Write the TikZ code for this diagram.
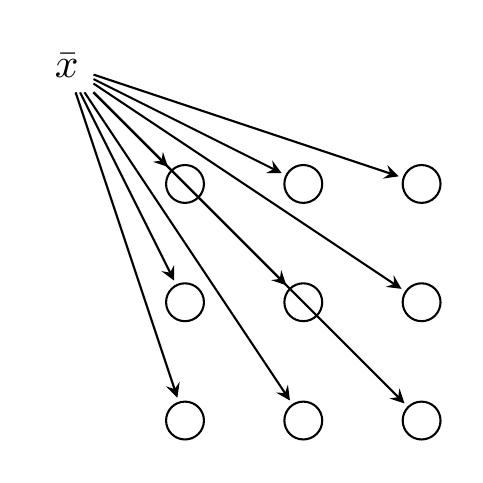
\documentclass[tikz,border=0pt]{standalone}
\usepackage{amsmath}
\usepackage{amssymb}
\usetikzlibrary{arrows, positioning}

\begin{document}
\begin{tikzpicture}[line width=0.5pt, unit/.style={circle, draw=black, minimum size=0.32cm, inner sep=0pt}]
  \useasboundingbox (-0.564, 0.555) rectangle (3.518, -3.528);
  \node (x) at (0, 0) {$\bar{x}$};
  \node[unit] (n11) at (1, -1) {};
  \node[unit] (n21) at (2, -1) {};
  \node[unit] (n31) at (3, -1) {};
  \node[unit] (n12) at (1, -2) {};
  \node[unit] (n22) at (2, -2) {};
  \node[unit] (n32) at (3, -2) {};
  \node[unit] (n13) at (1, -3) {};
  \node[unit] (n23) at (2, -3) {};
  \node[unit] (n33) at (3, -3) {};

  \draw [-stealth, shorten >=1pt] (x) -- (n11);
  \draw [-stealth, shorten >=1pt] (x) -- (n21);
  \draw [-stealth, shorten >=1pt] (x) -- (n31);
  \draw [-stealth, shorten >=1pt] (x) -- (n12);
  \draw [-stealth, shorten >=1pt] (x) -- (n22);
  \draw [-stealth, shorten >=1pt] (x) -- (n32);
  \draw [-stealth, shorten >=1pt] (x) -- (n13);
  \draw [-stealth, shorten >=1pt] (x) -- (n23);
  \draw [-stealth, shorten >=1pt] (x) -- (n33);
\end{tikzpicture}
\end{document}
